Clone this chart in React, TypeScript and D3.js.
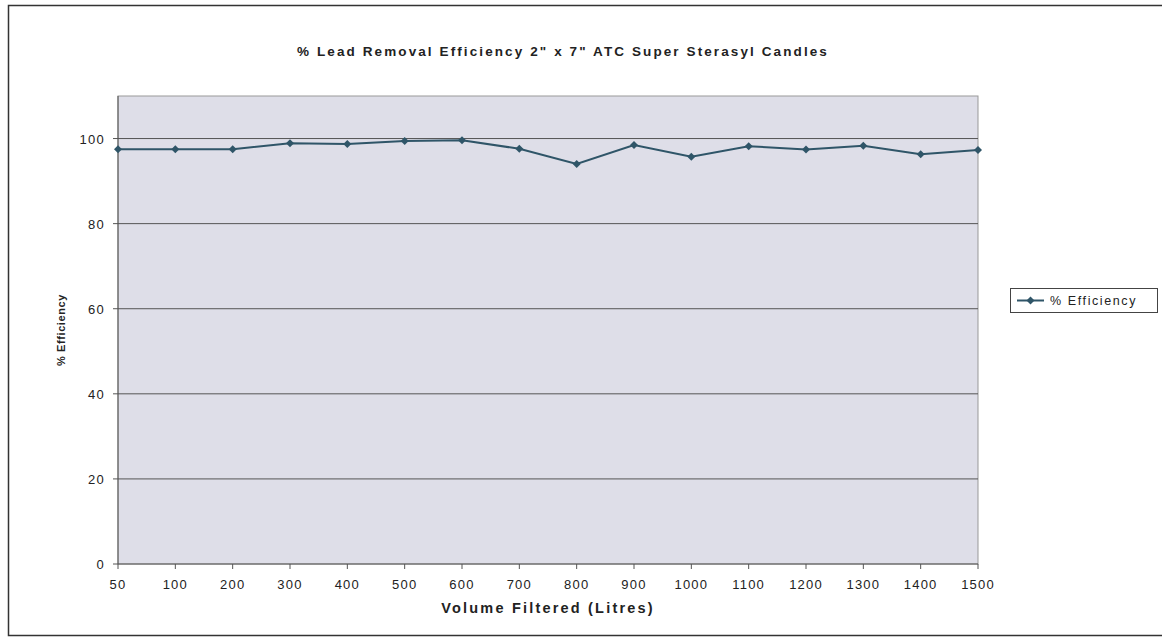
import React from "react";
import * as d3 from "d3";

const categories = ["50","100","200","300","400","500","600","700","800","900","1000","1100","1200","1300","1400","1500"];
const efficiency = [97.5, 97.5, 97.5, 98.9, 98.7, 99.4, 99.6, 97.6, 94.0, 98.5, 95.7, 98.2, 97.4, 98.3, 96.3, 97.3];
const yTicks = [0, 20, 40, 60, 80, 100];
const title = "% Lead Removal Efficiency 2\" x 7\" ATC Super Sterasyl Candles";
const xTitle = "Volume Filtered (Litres)";
const yTitle = "% Efficiency";
const seriesName = "% Efficiency";

export default function App() {
  const W = 1162, H = 640;
  const left = 118, right = 978, top = 96, bottom = 564;
  const x = d3.scalePoint<string>().domain(categories).range([left, right]);
  const y = d3.scaleLinear().domain([0, 110]).range([bottom, top]);
  const line = d3.line<number>().x((_, i) => x(categories[i])!).y(d => y(d));
  const font = "'Liberation Sans', Arial, sans-serif";
  const lineColor = "#2f5568";
  const diamond = (cx: number, cy: number, r = 4) => `M${cx},${cy - r}L${cx + r},${cy}L${cx},${cy + r}L${cx - r},${cy}Z`;
  return (
    <svg width={W} height={H} style={{ position: "absolute", left: 0, top: 0, background: "#fff" }} fontFamily={font}>
      <rect x={8.5} y={5.5} width={1160} height={630} fill="#fff" stroke="#333" strokeWidth={1.5} />
      <text x={563} y={56} textAnchor="middle" fontSize={13.5} fontWeight="bold" letterSpacing={2.1} fill="#222">{title}</text>
      <rect x={left} y={top} width={right - left} height={bottom - top} fill="#dedee8" stroke="#999" strokeWidth={1} />
      {yTicks.filter(t => t > 0).map(t => (
        <line key={t} x1={left} x2={right} y1={y(t)} y2={y(t)} stroke="#555" strokeWidth={1} />
      ))}
      <line x1={left} x2={left} y1={top} y2={bottom} stroke="#555" />
      <line x1={left} x2={right} y1={bottom} y2={bottom} stroke="#555" />
      {yTicks.map(t => (
        <g key={t}>
          <line x1={left - 5} x2={left} y1={y(t)} y2={y(t)} stroke="#555" />
          <text x={105} y={y(t) + 5} textAnchor="end" fontSize={13} letterSpacing={1.3} fill="#222">{t}</text>
        </g>
      ))}
      {categories.map(c => (
        <g key={c}>
          <line x1={x(c)!} x2={x(c)!} y1={bottom} y2={bottom + 5} stroke="#555" />
          <text x={x(c)!} y={589} textAnchor="middle" fontSize={13} letterSpacing={1.2} fill="#222">{c}</text>
        </g>
      ))}
      <text x={548} y={613} textAnchor="middle" fontSize={14.5} fontWeight="bold" letterSpacing={2.2} fill="#222">{xTitle}</text>
      <text transform={`translate(65,${330}) rotate(-90)`} textAnchor="middle" fontSize={11} fontWeight="bold" letterSpacing={0.6} fill="#222">{yTitle}</text>
      <path d={line(efficiency)!} fill="none" stroke={lineColor} strokeWidth={2} />
      {efficiency.map((v, i) => (
        <path key={i} d={diamond(x(categories[i])!, y(v))} fill={lineColor} />
      ))}
      <rect x={1010.5} y={288.5} width={147} height={24} fill="#fff" stroke="#444" />
      <line x1={1017} x2={1044} y1={300.5} y2={300.5} stroke={lineColor} strokeWidth={2} />
      <path d={diamond(1030.5, 300.5)} fill={lineColor} />
      <text x={1050} y={305} fontSize={12.5} letterSpacing={1.6} fill="#222">{seriesName}</text>
    </svg>
  );
}
